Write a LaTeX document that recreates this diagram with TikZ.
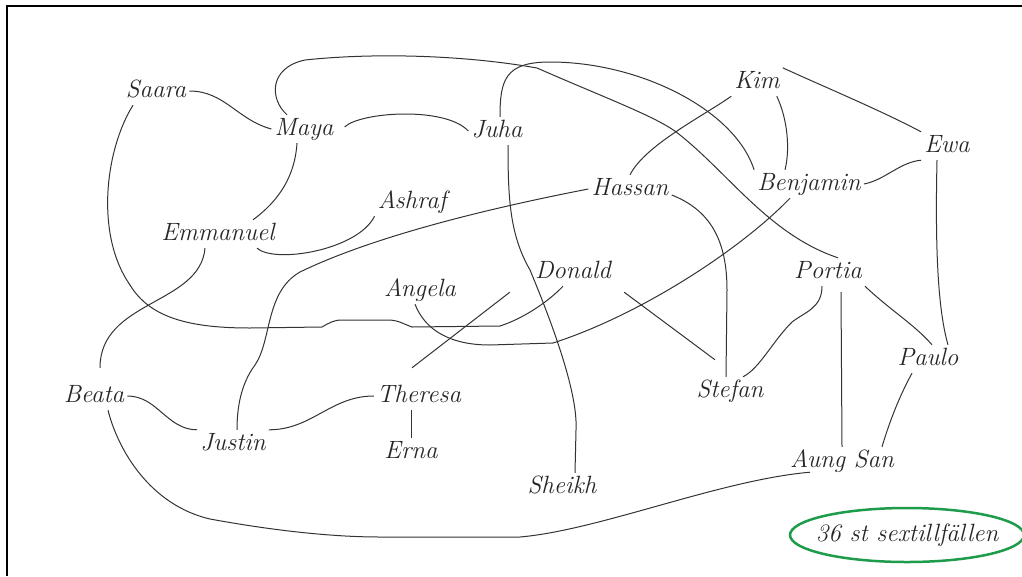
\documentclass[tikz,border=0pt]{standalone}
\usetikzlibrary{shapes.geometric}
\definecolor{tallygreen}{RGB}{30,155,75}
\newcommand\handfont{\fontsize{25}{29}\selectfont\itshape}

\begin{document}
\begin{tikzpicture}[
    x=1pt, y=-1pt,
    person/.style={font=\handfont, text=black!85, anchor=base, inner sep=3pt, text height=17pt, text depth=5pt},
    link/.style={draw=black!80, line width=1pt}
]
    \useasboundingbox (0,0) rectangle (1022,576);
    \draw[line width=1.6pt] (7,576) -- (7,6) -- (1022,6);

    \node[person] (saara) at (156,97) {Saara};
    \node[person] (maya) at (304,135) {Maya};
    \node[person] (juha) at (497,137) {Juha};
    \node[person] (kim) at (757,88) {Kim};
    \node[person] (ewa) at (947,152) {Ewa};
    \node[person] (benjamin) at (809,190) {Benjamin};
    \node[person] (hassan) at (630,195) {Hassan};
    \node[person] (ashraf) at (412,208) {Ashraf};
    \node[person] (emmanuel) at (218,240) {Emmanuel};
    \node[person] (donald) at (573,278) {Donald};
    \node[person] (angela) at (420,296) {Angela};
    \node[person] (portia) at (828,278) {Portia};
    \node[person] (paulo) at (928,365) {Paulo};
    \node[person] (beata) at (94,402) {Beata};
    \node[person] (theresa) at (419,402) {Theresa};
    \node[person] (stefan) at (730,397) {Stefan};
    \node[person] (justin) at (233,450) {Justin};
    \node[person] (erna) at (411,458) {Erna};
    \node[person] (sheikh) at (562,493) {Sheikh};
    \node[person] (aungsan) at (842,467) {Aung San};

    \draw[link] (saara.east) to[out=0, in=165] (maya.west);
    \draw[link] ([shift={(8,-2)}]maya.east) .. controls (360,112) and (445,106) .. (juha.west);
    \draw[link] ([xshift=-7pt]maya.south) .. controls (295,175) and (280,200) .. ([xshift=35pt]emmanuel.north);
    \draw[link] (maya.140) .. controls (270,100) and (268,68) .. (305,60) .. controls (380,52) and (470,56) .. (537,68)
        .. controls (610,100) and (660,118) .. (680,135) .. controls (730,175) and (770,235) .. ([xshift=10pt]portia.north);
    \draw[link] ([xshift=3pt]juha.north) .. controls (500,80) and (505,62) .. (550,62) .. controls (640,62) and (735,110) .. (benjamin.north west);
    \draw[link] (kim.south west) .. controls (705,115) and (645,145) .. (hassan.north);
    \draw[link] ([xshift=-6pt]kim.south east) .. controls (788,120) and (790,150) .. ([xshift=-24pt]benjamin.north);
    \draw[link] (kim.north east) .. controls (820,85) and (880,110) .. (ewa.north west);
    \draw[link] (ewa.south west) .. controls (900,162) and (885,180) .. (benjamin.east);
    \draw[link] ([xshift=-10pt]ewa.south) .. controls (935,250) and (938,310) .. ([xshift=20pt]paulo.north);
    \draw[link] (hassan.west) .. controls (480,210) and (370,238) .. (300,272) .. controls (265,292) and (272,340) .. (255,365)
        .. controls (240,385) and (237,410) .. ([xshift=4pt]justin.north);
    \draw[link] (ashraf.south west) .. controls (358,250) and (275,264) .. ([xshift=39pt]emmanuel.south);
    \draw[link] ([xshift=-13pt]emmanuel.south) .. controls (200,305) and (100,300) .. ([shift={(6,-14)}]beata.north);
    \draw[link] ([xshift=-23pt]saara.south) .. controls (105,150) and (95,235) .. (130,285) .. controls (150,318) and (190,328) .. (250,328)
        -- (322,327) to[out=30, in=180] (342,320) -- (388,320) to[out=0, in=160] (412,327) -- (500,326)
        .. controls (525,318) and (550,300) .. ([xshift=-10pt]donald.south);
    \draw[link] ([xshift=-5pt]angela.south) .. controls (425,330) and (450,345) .. (490,345) -- (553,343)
        .. controls (640,315) and (740,250) .. ([xshift=-19pt]benjamin.south);
    \draw[link] ([shift={(-22,6)}]donald.south west) -- ([shift={(-7,-14)}]theresa.north);
    \draw[link] ([shift={(10,6)}]donald.south east) -- ([shift={(-15,-17)}]stefan.north);
    \draw[link] ([xshift=11pt]juha.south) .. controls (508,200) and (510,235) .. (530,270) .. controls (555,330) and (578,395) .. (576,430)
        -- ([xshift=13pt]sheikh.north);
    \draw[link] ([shift={(0,6)}]hassan.east) .. controls (710,210) and (727,240) .. (727,290) -- ([xshift=-4pt]stefan.north);
    \draw[link] ([xshift=-6pt]portia.south) .. controls (822,308) and (805,312) .. (792,322) .. controls (772,342) and (760,368) .. ([xshift=13pt]stefan.north);
    \draw[link] ([shift={(13,6)}]portia.south) -- (aungsan.north);
    \draw[link] (portia.south east) .. controls (890,310) and (915,325) .. ([xshift=4pt]paulo.north);
    \draw[link] ([xshift=-16pt]paulo.south) .. controls (900,395) and (890,420) .. ([xshift=40pt]aungsan.north);
    \draw[link] (beata.east) to[out=0, in=180] (justin.north west);
    \draw[link] (justin.north east) to[out=0, in=180] (theresa.west);
    \draw[link] (theresa.south -| erna.north) -- (erna.north);
    \draw[link] ([xshift=14pt]beata.south) .. controls (118,450) and (150,505) .. (210,519) .. controls (270,530) and (330,537) .. (380,537)
        -- (520,537) .. controls (600,530) and (720,480) .. ([shift={(-32,-3)}]aungsan.south);

    % Tally
    \node[font=\handfont, text=black!85, inner sep=0pt] (tally) at (907,535) {36 st sextillfällen};
    \draw[tallygreen, line width=2.5pt] (tally.center) ellipse [x radius=117pt, y radius=27pt];

\end{tikzpicture}
\end{document}
